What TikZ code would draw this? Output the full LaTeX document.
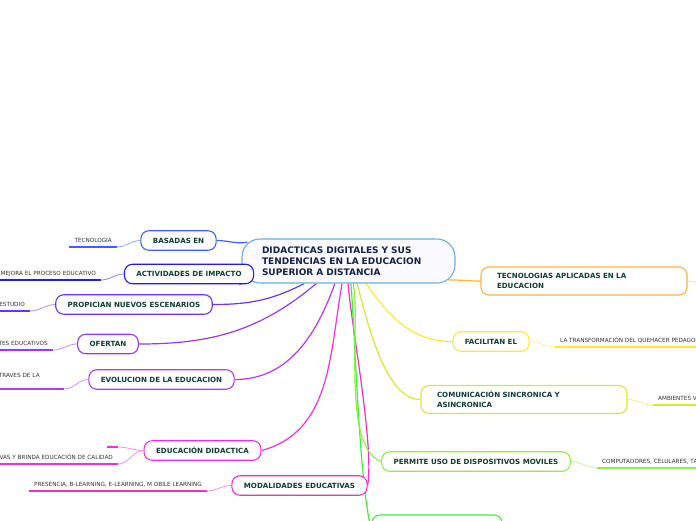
\documentclass[tikz,border=0pt]{standalone}
\usepackage{fontspec}
\setmainfont{DejaVu Sans}
\usetikzlibrary{positioning,backgrounds}

\definecolor{inkgreen}{HTML}{0E3F30}
\definecolor{inknavy}{HTML}{14224A}
\definecolor{inkgray}{HTML}{333333}
\definecolor{rootblue}{HTML}{6AAEE0}
\definecolor{cbas}{HTML}{3D63F5}
\definecolor{cact}{HTML}{2020D8}
\definecolor{cprop}{HTML}{6A35F0}
\definecolor{cofer}{HTML}{9A38F0}
\definecolor{cevol}{HTML}{B935EE}
\definecolor{cedu}{HTML}{EE30E0}
\definecolor{cmod}{HTML}{F030C0}
\definecolor{ctec}{HTML}{FFB340}
\definecolor{cfac}{HTML}{FFE830}
\definecolor{ccom}{HTML}{C8F030}
\definecolor{cperm}{HTML}{8CF03C}
\definecolor{cbot}{HTML}{3CF03C}

\begin{document}
\begin{tikzpicture}[x=1pt, y=-1pt,
    box/.style={draw=#1, line width=1.1pt, rounded corners=8pt, fill=white,
        font=\bfseries\fontsize{7.1}{9.5}\selectfont, text=inkgreen},
    topic/.style={box=#1, inner xsep=12pt, minimum height=19.5pt,
        text height=5.2pt, text depth=0pt},
    wide/.style={box=#1, text width=174pt, align=left, inner xsep=16pt,
        minimum height=28pt},
    leaf/.style={font=\fontsize{5.7}{6.8}\selectfont, text=inkgray,
        inner xsep=5pt, inner ysep=4.5pt, text height=4pt, text depth=0pt},
    link/.style={draw=#1, line width=1.2pt},
    twig/.style={draw=#1!55, line width=0.8pt},
    uline/.style={draw=#1, line width=1.8pt}
]
\useasboundingbox (0,0) rectangle (696,520);

% Central topic
\node[draw=rootblue, line width=1.1pt, rounded corners=18pt, fill=blue!2,
      minimum width=213pt, minimum height=44pt, text width=173pt, align=left,
      font=\bfseries\fontsize{9}{11}\selectfont, text=inknavy] (c) at (348.5,261)
      {DIDACTICAS DIGITALES Y SUS\\TENDENCIAS EN LA EDUCACION\\SUPERIOR A DISTANCIA};

% Left branches
\node[topic=cbas]  (bas)  at (178.5,240.5) {BASADAS EN};
\node[topic=cact]  (act)  at (189,274)     {ACTIVIDADES DE IMPACTO};
\node[topic=cprop] (prop) at (134,304.5)   {PROPICIAN NUEVOS ESCENARIOS};
\node[topic=cofer] (ofer) at (108,344)     {OFERTAN};
\node[topic=cevol] (evol) at (161.5,379.5) {EVOLUCION DE LA EDUCACION};
\node[topic=cedu]  (edu)  at (202.5,450.5) {EDUCACIÓN DIDACTICA};
\node[topic=cmod]  (mod)  at (299.5,485.5) {MODALIDADES EDUCATIVAS};

% Right branches
\node[wide=ctec]   (tec)  at (584,281)     {TECNOLOGIAS APLICADAS EN LA\\EDUCACION};
\node[topic=cfac]  (fac)  at (491,341.5)   {FACILITAN EL};
\node[wide=ccom]   (com)  at (524,399.5)   {COMUNICACIÓN SINCRONICA Y\\ASINCRONICA};
\node[topic=cperm] (perm) at (476,461.5)   {PERMITE USO DE DISPOSITIVOS MOVILES};
\node[box=cbot, minimum width=130pt, minimum height=30pt] (bot) at (437,530) {};

% Leaves, left
\node[leaf, anchor=south east] (l1) at (117,247) {TECNOLOGIA};
\node[leaf, anchor=south east] (l2) at (101,280) {MEJORA EL PROCESO EDUCATIVO};
\node[leaf, anchor=south east] (l3) at (30,311)  {ESTUDIO};
\node[leaf, anchor=south east] (l4) at (53,350)  {TES EDUCATIVOS};
\node[leaf, anchor=south east, text width=60pt, align=left, text depth=6.5pt]
      (l5) at (64,389) {TRAVES DE LA};
\node[leaf, anchor=south east, minimum width=11pt, inner xsep=0pt] (l6a) at (118,447) {};
\node[leaf, anchor=south east] (l6b) at (118,464) {VAS Y BRINDA EDUCACIÓN DE CALIDAD};
\node[leaf, anchor=south east] (l7) at (207,491)
      {PRESENCIA, B-LEARNING, E-LEARNING, M OBILE LEARNING};

% Leaves, right
\coordinate (r1) at (705,283);
\node[leaf, anchor=south west] (r2) at (555,347) {LA TRANSFORMACIÓN DEL QUEHACER PEDAGOG};
\node[leaf, anchor=south west] (r3) at (653,405) {AMBIENTES V};
\node[leaf, anchor=south west] (r4) at (597,468) {COMPUTADORES, CELULARES, TA};

\begin{scope}[on background layer]
% Topic to branches
\draw[link=cbas]  (bas.east)  to[out=0,in=190] ([xshift=6pt]c.170);
\draw[link=cact]  (act.east)  to[out=0,in=-160] (c.-168);
\draw[link=cprop] (prop.east) to[out=0,in=-153] (c.-153);
\draw[link=cofer] (ofer.east) to[out=0,in=-140] (c.-145);
\draw[link=cevol] (evol.east) to[out=0,in=-110] (c.-121);
\draw[link=cedu]  (edu.east)  to[out=15,in=-100] (c.-106);
\draw[link=cmod]  (c.-91)  to[out=-86,in=80,looseness=0.5] (mod.east);
\draw[link=cbot]  (c.-84)  to[out=-85,in=105,looseness=0.5] (bot.west);
\draw[link=cperm] (c.-78)  to[out=-80,in=160,looseness=0.6] (perm.west);
\draw[link=ccom]  (c.-69)  to[out=-75,in=180,looseness=0.7] (com.west);
\draw[link=cfac]  (c.-52)  to[out=-55,in=180] (fac.west);
\draw[link=ctec]  ([xshift=-8pt]c.-10) to[out=0,in=180] (tec.west);

% Branches to leaves
\draw[uline=cbas]  (l1.south west) -- (l1.south east);
\draw[twig=cbas]   (l1.south east) to[out=0,in=180] (bas.west);
\draw[uline=cact]  (l2.south west) -- (l2.south east);
\draw[twig=cact]   (l2.south east) to[out=0,in=180] (act.west);
\draw[uline=cprop] (l3.south west) -- (l3.south east);
\draw[twig=cprop]  (l3.south east) to[out=0,in=180] (prop.west);
\draw[uline=cofer] (l4.south west) -- (l4.south east);
\draw[twig=cofer]  (l4.south east) to[out=0,in=180] (ofer.west);
\draw[uline=cevol] (l5.south west) -- (l5.south east);
\draw[twig=cevol]  (l5.south east) to[out=0,in=180] (evol.west);
\draw[uline=cedu]  (l6a.south west) -- (l6a.south east);
\draw[twig=cedu]   (l6a.south east) to[out=0,in=180] (edu.west);
\draw[uline=cedu]  (l6b.south west) -- (l6b.south east);
\draw[twig=cedu]   (l6b.south east) to[out=0,in=180] (edu.west);
\draw[uline=cmod]  (l7.south west) -- (l7.south east);
\draw[twig=cmod]   (l7.south east) to[out=0,in=180] (mod.west);

\draw[twig=ctec]   (tec.east) to[out=0,in=180] (r1);
\draw[uline=cfac]  (r2.south west) -- (r2.south east);
\draw[twig=cfac]   (fac.east) to[out=0,in=180] (r2.south west);
\draw[uline=ccom]  (r3.south west) -- (r3.south east);
\draw[twig=ccom]   (com.east) to[out=0,in=180] (r3.south west);
\draw[uline=cperm] (r4.south west) -- (r4.south east);
\draw[twig=cperm]  (perm.east) to[out=0,in=180] (r4.south west);
\end{scope}

\end{tikzpicture}
\end{document}
